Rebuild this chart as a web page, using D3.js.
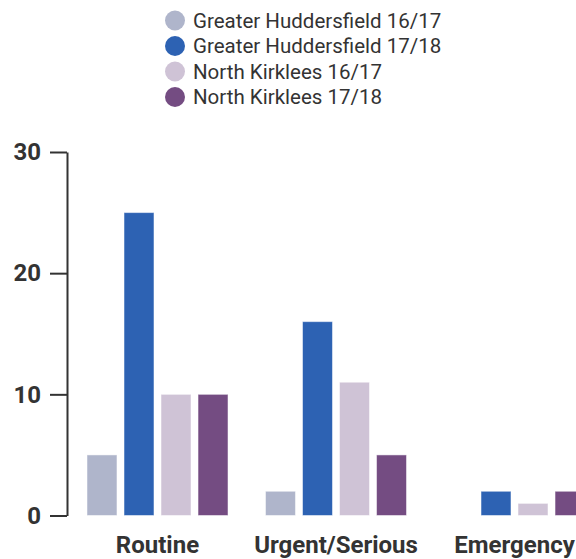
<!DOCTYPE html>
<html><head><meta charset="utf-8">
<script src="https://cdn.jsdelivr.net/npm/d3@7/dist/d3.min.js"></script>
<style>html,body{margin:0;padding:0;background:#fff;overflow:hidden}svg{display:block;font-family:Roboto,"Noto Sans",sans-serif}</style>
</head><body>
<script>
const categories = ["Routine", "Urgent/Serious", "Emergency"];
const seriesNames = ["Greater Huddersfield 16/17", "Greater Huddersfield 17/18", "North Kirklees 16/17", "North Kirklees 17/18"];
const gh1617 = [5, 2, 0];
const gh1718 = [25, 16, 2];
const nk1617 = [10, 11, 1];
const nk1718 = [10, 5, 2];
const yTicks = [0, 10, 20, 30];
const colors = ["#afb5cb", "#2d62b3", "#cfc3d6", "#744c82"];

const seriesValues = [gh1617, gh1718, nk1617, nk1718];
const W = 576, H = 559;
const svg = d3.select("body").append("svg").attr("width", W).attr("height", H);

const y = d3.scaleLinear().domain([0, 30]).range([515.5, 152]);
const x0 = d3.scaleBand().domain(categories).range([67, 605]).paddingInner(0.21).paddingOuter(0.112);
const x1 = d3.scaleBand().domain(seriesNames).range([0, x0.bandwidth()]).paddingInner(0.19);

// bars
const groups = svg.append("g").selectAll("g").data(categories).join("g")
  .attr("transform", d => `translate(${x0(d)},0)`);
groups.selectAll("rect").data((c, ci) => seriesNames.map((s, si) => ({s, si, v: seriesValues[si][ci]})))
  .join("rect")
  .attr("x", d => x1(d.s))
  .attr("width", x1.bandwidth())
  .attr("y", d => y(d.v))
  .attr("height", d => y(0) - y(d.v))
  .attr("fill", d => colors[d.si])
  .attr("stroke", "#fff").attr("stroke-opacity", 0.5).attr("stroke-width", 1);

// y axis
const yAxis = d3.axisLeft(y).tickValues(yTicks).tickSize(17).tickSizeOuter(0).tickPadding(9);
const ga = svg.append("g").attr("transform", "translate(67,0)").call(yAxis);
ga.select(".domain").attr("stroke", "#333").attr("stroke-width", 2);
ga.selectAll(".tick line").attr("stroke", "#333").attr("stroke-width", 2);
ga.selectAll(".tick text").attr("fill", "#333").style("font-size", "24px").style("font-weight", "bold").style("font-family", "Roboto");

// category labels
svg.append("g").selectAll("text").data(categories).join("text")
  .attr("x", d => x0(d) + x0.bandwidth() / 2)
  .attr("y", 553)
  .attr("text-anchor", "middle")
  .attr("fill", "#333")
  .style("font-size", "24px").style("font-weight", "bold")
  .text(d => d);

// legend
const lg = svg.append("g").selectAll("g").data(seriesNames).join("g")
  .attr("transform", (d, i) => `translate(175,${20.5 + i * 25.5})`);
lg.append("circle").attr("r", 10).attr("fill", (d, i) => colors[i]);
lg.append("text").attr("x", 18).attr("dy", "0.35em").attr("fill", "#333")
  .style("font-size", "20.5px").text(d => d);
</script>
</body></html>
